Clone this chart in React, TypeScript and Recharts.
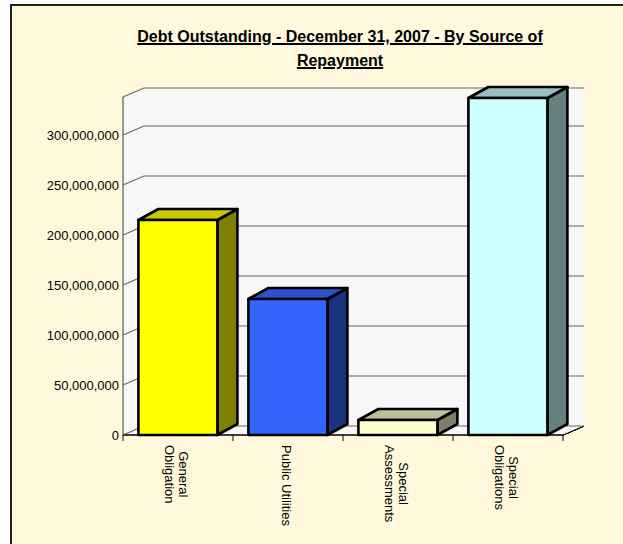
import React from 'react';
import { BarChart, Bar, XAxis, YAxis, CartesianGrid } from 'recharts';

// Data (dollars)
const categories = ['General\nObligation', 'Public Utilities', 'Special\nAssessments', 'Special\nObligations'];
const amounts = [215000000, 136000000, 15000000, 337000000];
const yTicks = [0, 50000000, 100000000, 150000000, 200000000, 250000000, 300000000];
const yMax = 338000000;

// face colours of each 3D bar
const frontColors = ['#FFFF00', '#3366FF', '#FFFFCC', '#CCFFFF'];
const topColors = ['#C8C800', '#2A52CC', '#BFBF9C', '#99C0C0'];
const sideColors = ['#808000', '#1A3380', '#808066', '#668080'];

const data = categories.map((name, i) => ({ name, amount: amounts[i] }));

const FONT = "'Liberation Sans', Arial, sans-serif";
const CREAM = '#FFF8DC';
const WALL = '#F7F7F7';
// depth offsets: wall/grid and bar
const GX = 21;
const GY = 9;
const BX = 20;
const BY = 11;

const numFmt = new Intl.NumberFormat('en-US');

let ctx: CanvasRenderingContext2D | null = null;
function textWidth(t: string) {
  if (!ctx) ctx = document.createElement('canvas').getContext('2d');
  if (!ctx) return t.length * 7;
  ctx.font = `13px ${FONT}`;
  return ctx.measureText(t).width;
}

// back wall + side wall + floor edge, drawn under the grid lines
function wallLine(props: any) {
  const { x, y, width, height } = props;
  const b = y + height;
  const pts = [
    [x, y],
    [x + GX, y - GY],
    [x + width + GX, y - GY],
    [x + width + GX, b - GY],
    [x + width, b],
    [x, b],
  ]
    .map((p) => p.join(','))
    .join(' ');
  return (
    <g key={`wall-${props.index}`}>
      <polygon points={pts} fill={WALL} stroke="none" />
      <line x1={x + width} y1={b} x2={x + width + GX} y2={b - GY} stroke="#000" strokeWidth={1} />
    </g>
  );
}

function gridLine(props: any) {
  const { x1, y1, x2 } = props;
  return (
    <polyline
      key={`grid-${props.index}`}
      points={`${x1},${y1} ${x1 + GX},${y1 - GY} ${x2 + GX},${y1 - GY}`}
      fill="none"
      stroke="#666"
      strokeWidth={1.2}
    />
  );
}

function Bar3D(props: any) {
  const { x, y, width, height, index } = props;
  if (!width || height == null) return <g />;
  const top = `${x},${y} ${x + BX},${y - BY} ${x + width + BX},${y - BY} ${x + width},${y}`;
  const side = `${x + width},${y} ${x + width + BX},${y - BY} ${x + width + BX},${y + height - BY} ${x + width},${y + height}`;
  const st = { stroke: '#000', strokeWidth: 2.6, strokeLinejoin: 'round' as const };
  return (
    <g>
      <polygon points={side} fill={sideColors[index]} {...st} />
      <polygon points={top} fill={topColors[index]} {...st} />
      <rect x={x} y={y} width={width} height={height} fill={frontColors[index]} {...st} />
    </g>
  );
}

function CategoryTick(props: any) {
  const { x, y, payload, index, visibleTicksCount } = props;
  const half = payload.offset || 55;
  const lines = String(payload.value).split('\n');
  const block = Math.max(...lines.map(textWidth));
  const lh = 14.5;
  return (
    <g>
      <line x1={x - half} y1={y} x2={x - half} y2={y + 6} stroke="#000" />
      {index === visibleTicksCount - 1 && (
        <line x1={x + half} y1={y} x2={x + half} y2={y + 6} stroke="#000" />
      )}
      <g transform={`translate(${x},${y + 10}) rotate(90)`}>
        {lines.map((t, i) => (
          <text
            key={i}
            x={block / 2}
            y={(i - (lines.length - 1) / 2) * lh + 6}
            textAnchor="middle"
            fontSize={13}
            fontFamily={FONT}
            fill="#000"
          >
            {t}
          </text>
        ))}
      </g>
    </g>
  );
}

export default function App() {
  return (
    <div
      style={{
        position: 'absolute',
        left: 10,
        top: 4,
        width: 613,
        height: 540,
        borderLeft: '2px solid #222',
        borderTop: '2px solid #222',
        background: CREAM,
        fontFamily: FONT,
      }}
    >
      <BarChart
        width={611}
        height={538}
        data={data}
        margin={{ top: 91, right: 60, left: 0, bottom: 9 }}
        barCategoryGap="14%"
      >
        <CartesianGrid vertical={false} horizontal={wallLine} />
        <CartesianGrid vertical={false} horizontal={gridLine} />
        <XAxis
          dataKey="name"
          interval={0}
          height={100}
          tickSize={0}
          tickMargin={0}
          tickLine={false}
          axisLine={{ stroke: '#000', strokeWidth: 1.5 }}
          tick={<CategoryTick />}
        />
        <YAxis
          width={111}
          domain={[0, yMax]}
          ticks={yTicks}
          tickSize={0}
          tickMargin={4}
          tickLine={false}
          axisLine={{ stroke: '#777', strokeWidth: 1.5 }}
          tickFormatter={(v) => numFmt.format(Number(v))}
          tick={{ fill: '#000', fontSize: 13, fontFamily: FONT }}
        />
        <Bar dataKey="amount" shape={<Bar3D />} isAnimationActive={false} />
      </BarChart>
      <div
        style={{
          position: 'absolute',
          top: 19,
          left: 28,
          width: 600,
          textAlign: 'center',
          fontSize: 16,
          fontWeight: 'bold',
          lineHeight: '24px',
          whiteSpace: 'nowrap',
          textDecoration: 'underline',
          textDecorationThickness: '2px',
          color: '#000',
        }}
      >
        Debt Outstanding - December 31, 2007 - By Source of
        <br />
        Repayment
      </div>
    </div>
  );
}
